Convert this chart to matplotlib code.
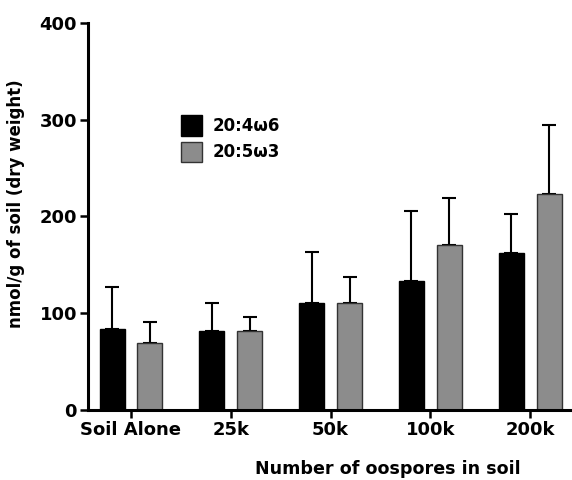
import numpy as np
import matplotlib.pyplot as plt

## DONNÉES
groups = ["Soil Alone", "25k", "50k", "100k", "200k"]
ara = [84, 82, 111, 133, 162]          # 20:4w6
ara_err = [43, 29, 52, 73, 41]
epa = [69, 82, 111, 170, 223]          # 20:5w3
epa_err = [22, 14, 26, 49, 72]

plt.rcParams['font.family'] = ['DejaVu Sans']
plt.rcParams['font.weight'] = 'bold'

fig = plt.figure(figsize=(5.72, 4.8), dpi=100)
ax = fig.add_axes([0.154, 0.146, 0.846, 0.806])

x = np.arange(len(groups))
w = 0.25
ax.bar(x - 0.19, ara, w, color="black", edgecolor="black", linewidth=1, label="20:4\u03c96", zorder=2)
ax.bar(x + 0.19, epa, w, color="#8c8c8c", edgecolor="#333333", linewidth=1, label="20:5\u03c93", zorder=2)

# barres d'erreur vers le haut seulement
ax.errorbar(x - 0.19, ara, yerr=[np.zeros(5), ara_err], fmt="none", ecolor="black",
            elinewidth=1.5, capsize=5, capthick=1.5, zorder=1)
ax.errorbar(x + 0.19, epa, yerr=[np.zeros(5), epa_err], fmt="none", ecolor="black",
            elinewidth=1.5, capsize=5, capthick=1.5, zorder=1)

ax.set_xlim(-0.43, 4.42)
ax.set_ylim(0, 400)
ax.set_yticks([0, 100, 200, 300, 400])
ax.set_xticks(x)
ax.set_xticklabels(groups)

for s in ["top", "right"]:
    ax.spines[s].set_visible(False)
for s in ["left", "bottom"]:
    ax.spines[s].set_linewidth(2.2)
ax.tick_params(width=1.8, length=6, labelsize=13, pad=2)

# titres des axes
fig.text(16 / 572, 1 - 204 / 480, "nmol/g of soil (dry weight)", rotation=90,
         ha="center", va="center", fontsize=12, fontweight="bold")
fig.text(388 / 572, 1 - 469 / 480, "Number of oospores in soil", ha="center", va="center",
         fontsize=12.6, fontweight="bold")

ax.legend(loc="upper left", bbox_to_anchor=(0.16, 0.80), frameon=False, fontsize=12,
          handlelength=1.3, handleheight=1.5, handletextpad=0.6, labelspacing=0.35)

plt.savefig("out.png", dpi=100)
